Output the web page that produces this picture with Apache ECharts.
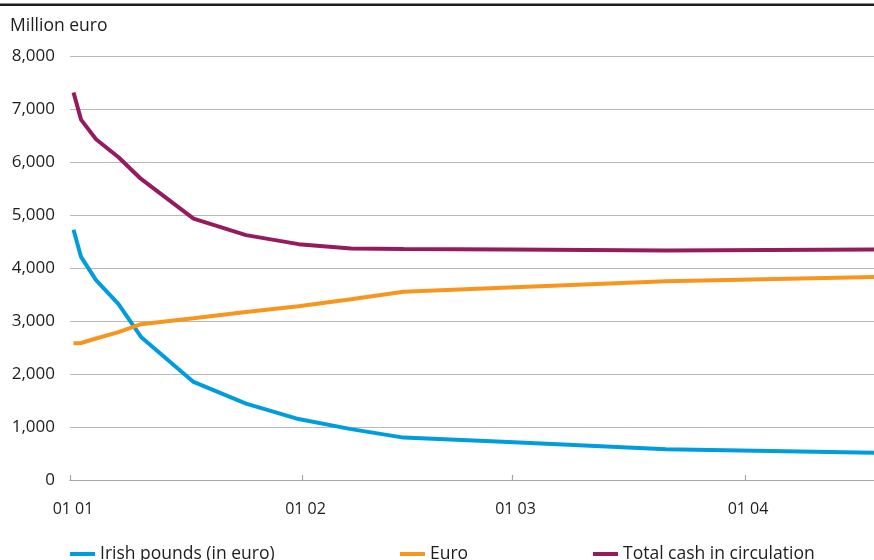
<!DOCTYPE html>
<html>
<head>
<meta charset="utf-8">
<script src="https://cdn.jsdelivr.net/npm/echarts@6/dist/echarts.min.js"></script>
<style>
  html, body { margin: 0; padding: 0; background: #fff; }
  #chart { width: 874px; height: 560px; }
</style>
</head>
<body>
<div id="chart"></div>
<script>
// ---- Data ----
const dates = ['2002-01-01','2002-01-02','2002-01-04','2002-01-07','2002-01-10','2002-01-17',
               '2002-01-24','2002-01-31','2002-02-07','2002-02-14','2002-02-28','2002-03-21','2002-04-18'];
const irishPounds = [4720, 4210, 3770, 3320, 2700, 1850, 1440, 1150, 960, 800, 715, 580, 515];
const euro        = [2580, 2585, 2670, 2790, 2940, 3050, 3170, 3280, 3410, 3550, 3630, 3750, 3830];
const totalCash   = [7310, 6800, 6430, 6090, 5680, 4930, 4620, 4450, 4370, 4360, 4350, 4330, 4350];
const seriesNames = ['Irish pounds (in euro)', 'Euro', 'Total cash in circulation'];
const tickDays   = [0, 31, 59, 90];
const tickLabels = ['01 01', '01 02', '01 03', '01 04'];

// ---- helpers ----
const DAY = 86400000;
const base = Date.UTC(2002, 0, 1);
function dayOf(s) {
  const p = s.split('-').map(Number);
  return (Date.UTC(p[0], p[1] - 1, p[2]) - base) / DAY + 0.47; // plotted mid-day
}
function pairs(vals) { return vals.map((v, i) => [dayOf(dates[i]), v]); }
function fmt(v) { return String(v).replace(/\B(?=(\d{3})+(?!\d))/g, ','); }

const colors = ['#009ddc', '#f7961f', '#951b5f'];
const font = 'Open Sans';
const txt = '#1d1d1b';

const chart = echarts.init(document.getElementById('chart'), null, { renderer: 'canvas' });
chart.setOption({
  animation: false,
  backgroundColor: '#fff',
  color: colors,
  textStyle: { fontFamily: font, color: txt },
  graphic: [
    { type: 'rect', shape: { x: 0, y: 3.5, width: 874, height: 2.5 }, style: { fill: '#1d1d1b' } },
    { type: 'text', left: 10, top: 17, style: { text: 'Million euro', font: '17.5px "Open Sans"', fill: txt } }
  ],
  grid: { left: 70, right: 0, top: 56, bottom: 80, containLabel: false },
  xAxis: {
    type: 'value',
    min: 0,
    max: 107.2,
    splitLine: { show: false },
    axisLine: { show: true, lineStyle: { color: '#a6a6a6', width: 1.2 } },
    axisTick: { show: true, inside: true, length: 5, customValues: tickDays, lineStyle: { color: '#a6a6a6', width: 1.2 } },
    axisLabel: {
      customValues: tickDays,
      formatter: v => tickLabels[tickDays.indexOf(Math.round(v))] || '',
      fontFamily: font, fontSize: 16, color: txt, margin: 21,
      padding: [0, 0, 0, 6]
    }
  },
  yAxis: {
    type: 'value',
    min: 0, max: 8000, interval: 1000,
    axisLine: { show: false },
    axisTick: { show: false },
    splitLine: { show: true, lineStyle: { color: '#b8b8b8', width: 1.2 } },
    axisLabel: { formatter: v => fmt(v), fontFamily: font, fontSize: 17, color: txt, margin: 15 }
  },
  legend: seriesNames.map((n, i) => ({
    data: [n],
    left: [70, 400, 593][i],
    top: 545,
    padding: 0,
    icon: 'rect',
    itemWidth: 25,
    itemHeight: 4,
    textStyle: { fontFamily: font, fontSize: 17.5, color: txt },
    selectedMode: false
  })),
  series: [
    { name: seriesNames[0], type: 'line', data: pairs(irishPounds), showSymbol: false, lineStyle: { width: 4, color: colors[0] }, itemStyle: { color: colors[0] } },
    { name: seriesNames[1], type: 'line', data: pairs(euro), showSymbol: false, lineStyle: { width: 4, color: colors[1] }, itemStyle: { color: colors[1] } },
    { name: seriesNames[2], type: 'line', data: pairs(totalCash), showSymbol: false, lineStyle: { width: 4, color: colors[2] }, itemStyle: { color: colors[2] } }
  ]
});
</script>
</body>
</html>
